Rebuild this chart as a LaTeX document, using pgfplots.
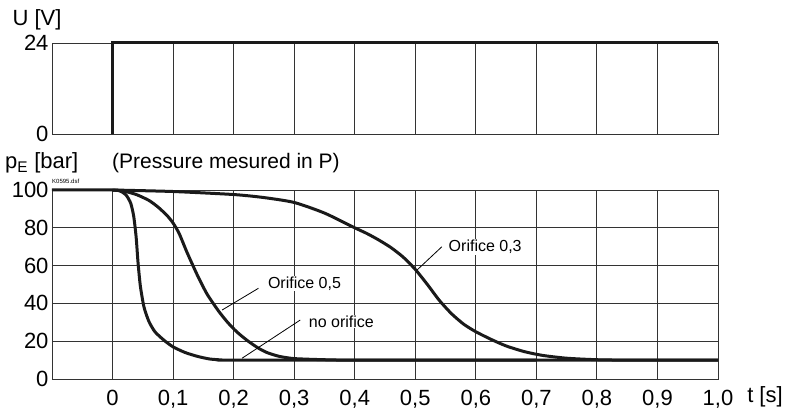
\documentclass[border=0pt]{standalone}
\usepackage{fontspec}
\setmainfont{Liberation Sans}
\usepackage{pgfplots}
\pgfplotsset{compat=1.18}
\definecolor{gridc}{HTML}{333333}
\definecolor{curve}{HTML}{1A1A1A}
\begin{document}
\begin{tikzpicture}
\useasboundingbox (-52bp,-36bp) rectangle (736bp,379bp);
\pgfplotsset{
  common/.style={
    scale only axis, width=666bp, xmin=-0.1, xmax=1.0,
    xtick={0,0.1,0.2,0.3,0.4,0.5,0.6,0.7,0.8,0.9,1.0},
    major tick length=0, xmajorgrids,
    grid style={draw=gridc, line width=0.9bp},
    axis line style={draw=gridc, line width=0.9bp},
    tick label style={font=\fontsize{22bp}{26bp}\selectfont},
    clip=false,
  }
}
% top axis: voltage
\begin{axis}[common, at={(0bp,245bp)}, anchor=south west, height=91bp,
  ymin=0, ymax=24, ytick={0,24}, yticklabels={0,24}, xticklabels={}]
\addplot[line width=3bp, curve] coordinates {(0,0) (0,24) (1.0,24)};
\end{axis}
% bottom axis: pressure
\begin{axis}[common, at={(0bp,0bp)}, anchor=south west, height=189bp,
  ymin=0, ymax=100, ytick={0,20,40,60,80,100}, yticklabels={0,20,40,60,80,100},
  ymajorgrids, xticklabel style={yshift=-8bp},
  xticklabels={0,{0,1},{0,2},{0,3},{0,4},{0,5},{0,6},{0,7},{0,8},{0,9},{1,0}}]
% no orifice
\addplot[line width=3bp, curve, smooth, tension=0.4] coordinates {
 (-0.1,100) (0,100) (0.012,99.5) (0.022,97.5) (0.03,93) (0.035,86) (0.039,75)
 (0.042,62) (0.046,49) (0.052,38) (0.06,30.5) (0.07,25) (0.085,20.5) (0.1,17)
 (0.12,14) (0.14,12) (0.16,10.6) (0.18,10.1) (0.2,10) (0.6,10) (1.0,10)};
% orifice 0,5
\addplot[line width=3bp, curve, smooth, tension=0.4] coordinates {
 (0,100) (0.02,99.3) (0.04,97.5) (0.06,94.5) (0.075,91) (0.09,86.5) (0.1,82.5)
 (0.11,77) (0.123,67) (0.14,55) (0.156,45) (0.175,36) (0.19,30) (0.205,25)
 (0.222,20.5) (0.24,16.5) (0.255,14) (0.275,12) (0.3,10.8) (0.35,10.2) (0.4,10) (0.7,10)};
% orifice 0,3
\addplot[line width=3bp, curve, smooth, tension=0.4] coordinates {
 (0,100) (0.1,99.2) (0.2,97.6) (0.25,96) (0.3,93.4) (0.35,87.8) (0.4,80)
 (0.42,77) (0.44,73.5) (0.46,69.5) (0.48,64.5) (0.5,58) (0.52,50) (0.54,41.5)
 (0.56,34.5) (0.58,29) (0.6,25) (0.625,21) (0.65,17.5) (0.68,14.5) (0.71,12.5)
 (0.75,11) (0.8,10.2) (0.85,10) (1.0,10)};
% leaders
\draw[line width=0.8bp, black] (axis cs:0.544,70) -- (axis cs:0.503,57.7);
\draw[line width=0.8bp, black] (axis cs:0.241,48) -- (axis cs:0.181,36.5);
\draw[line width=0.8bp, black] (axis cs:0.31,31.2) -- (axis cs:0.214,11);
\node[fill=white, inner sep=1bp, font=\fontsize{16bp}{19bp}\selectfont] at (axis cs:0.6155,69.8) {Orifice 0,3};
\node[fill=white, inner sep=1bp, font=\fontsize{16bp}{19bp}\selectfont] at (axis cs:0.317,50.5) {Orifice 0,5};
\node[fill=white, inner sep=1bp, font=\fontsize{16bp}{19bp}\selectfont] at (axis cs:0.378,30.4) {no orifice};
\end{axis}
% texts
\node[font=\fontsize{22bp}{26bp}\selectfont] at (-15bp,359bp) {U [V]};
\node[anchor=west, font=\fontsize{22bp}{26bp}\selectfont, inner sep=0pt] at (-47bp,216bp) {p\textsubscript{E} [bar]};
\node[anchor=west, font=\fontsize{21bp}{25bp}\selectfont, inner sep=0pt] at (60bp,216bp) {(Pressure mesured in P)};
\node[anchor=west, font=\fontsize{6bp}{7bp}\selectfont, inner sep=0pt] at (0bp,198bp) {K0595.dsf};
\node[font=\fontsize{22bp}{26bp}\selectfont] at (713bp,-18bp) {t [s]};
\end{tikzpicture}
\end{document}
